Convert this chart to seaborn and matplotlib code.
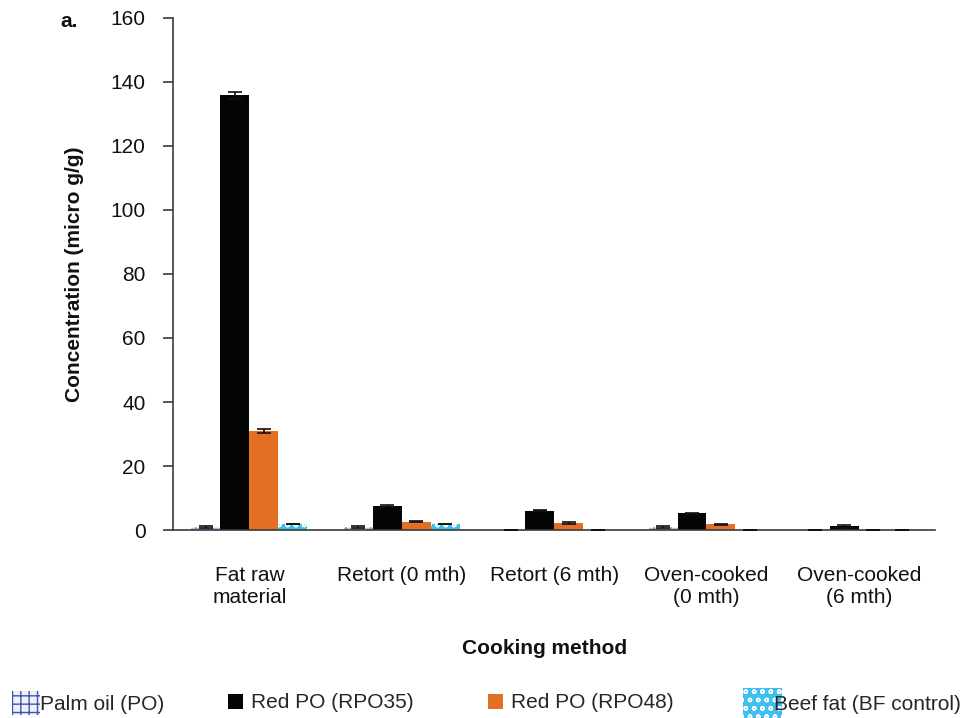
import matplotlib
matplotlib.use("Agg")
import matplotlib.pyplot as plt
import matplotlib.patches as mpatches
import seaborn as sns
import pandas as pd
import numpy as np

categories = ["Fat raw\nmaterial", "Retort (0 mth)", "Retort (6 mth)",
              "Oven-cooked\n(0 mth)", "Oven-cooked\n(6 mth)"]
series = ["Palm oil (PO)", "Red PO (RPO35)", "Red PO (RPO48)", "Beef fat (BF control)"]

po_vals = [1.0, 1.0, 0.0, 1.0, 0.0]
rpo35_vals = [135.8, 7.6, 6.1, 5.2, 1.2]
rpo48_vals = [31.0, 2.6, 2.2, 1.8, 0.0]
bf_vals = [2.0, 2.0, 0.0, 0.0, 0.0]

po_err = [0.3, 0.3, 0.0, 0.3, 0.0]
rpo35_err = [1.0, 0.3, 0.2, 0.2, 0.5]
rpo48_err = [0.6, 0.2, 0.4, 0.2, 0.0]
bf_err = [0.0, 0.0, 0.0, 0.0, 0.0]

y_ticks = [0, 20, 40, 60, 80, 100, 120, 140, 160]

values = [po_vals, rpo35_vals, rpo48_vals, bf_vals]
errors = [po_err, rpo35_err, rpo48_err, bf_err]

df = pd.DataFrame({
    "method": [c for s in series for c in categories],
    "fat": [s for s in series for c in categories],
    "conc": [v for vals in values for v in vals],
    "err": [e for errs in errors for e in errs],
})

sns.set_theme(style="white")
plt.rcParams["font.family"] = ["Liberation Sans", "DejaVu Sans"]

FS = 15
INK = "#111111"
AXC = "#3a3a3a"

fig = plt.figure(figsize=(9.73, 7.18), dpi=100)
ax = fig.add_axes([0.178, 0.2618, 0.783, 0.7132])

palette = ["white", "#030404", "#e36f25", "#3dc0ee"]
sns.barplot(data=df, x="method", y="conc", hue="fat", order=categories,
            hue_order=series, palette=palette, width=0.76, gap=0,
            saturation=1, errorbar=None, legend=False, ax=ax)

# Patterned fills for palm oil and beef fat series
for container, name in zip(ax.containers, series):
    for bar in container:
        bar.set_linewidth(0)
        if name == "Palm oil (PO)":
            bar.set_facecolor("#eef1fa")
            bar.set_edgecolor("#7b8fd0")
            bar.set_hatch("++")
        elif name == "Beef fat (BF control)":
            bar.set_facecolor("#3dc0ee")
            bar.set_edgecolor("white")
            bar.set_hatch("oo")

# Error bars
for container, errs in zip(ax.containers, errors):
    for bar, e in zip(container, errs):
        xc = bar.get_x() + bar.get_width() / 2
        h = bar.get_height()
        ax.errorbar(xc, h, yerr=e, fmt="none", ecolor=INK,
                    elinewidth=1.2, capsize=5, capthick=1.2, zorder=5)

ax.set_ylim(0, 160)
ax.set_yticks(y_ticks)
ax.set_xlim(-0.5, len(categories) - 0.5)
ax.set_xticks(range(len(categories)))
ax.set_xticklabels(categories, fontsize=FS, color=INK)
ax.set_xticks(np.arange(len(categories) + 1) - 0.5, minor=True)
ax.tick_params(axis="x", which="major", length=0, pad=26)
ax.tick_params(axis="x", which="minor", length=10, width=1.2, color=AXC,
               direction="out")
ax.tick_params(axis="y", length=7, width=1.2, color=AXC, direction="out",
               labelsize=FS, labelcolor=INK, left=True, pad=13)

for side in ["top", "right"]:
    ax.spines[side].set_visible(False)
for side in ["left", "bottom"]:
    ax.spines[side].set_color(AXC)
    ax.spines[side].set_linewidth(1.2)

ax.set_ylabel("Concentration (micro g/g)", fontsize=FS, fontweight="bold",
              color=INK, labelpad=19)
ax.set_xlabel("Cooking method", fontsize=FS, fontweight="bold",
              color=INK, labelpad=23)
ax.xaxis.label.set_x(0.488)

fig.text(0.062, 0.962, "a.", fontsize=FS, fontweight="bold", color=INK)

# Legend entries placed individually along the bottom
W, H = 973.0, 718.0
legend_items = [
    (mpatches.Patch(facecolor="#eef1fa", edgecolor="#3e56b0", hatch="++", linewidth=0),
     series[0], 12, 1.35, 1.35, 0.0),
    (mpatches.Patch(facecolor="#030404", linewidth=0),
     series[1], 228, 0.72, 0.72, 0.38),
    (mpatches.Patch(facecolor="#e36f25", linewidth=0),
     series[2], 488, 0.72, 0.72, 0.38),
    (mpatches.Patch(facecolor="#3dc0ee", edgecolor="white", hatch="oo", linewidth=0),
     series[3], 743, 1.85, 1.85, -0.35),
]
for handle, label, x0, hl, hh, tp in legend_items:
    fig.legend([handle], [label], loc="center left", frameon=False,
               bbox_to_anchor=(x0 / W, 1 - 703 / H), fontsize=FS,
               handlelength=hl, handleheight=hh, handletextpad=tp,
               borderpad=0, borderaxespad=0)

fig.savefig("out.png", dpi=100)
